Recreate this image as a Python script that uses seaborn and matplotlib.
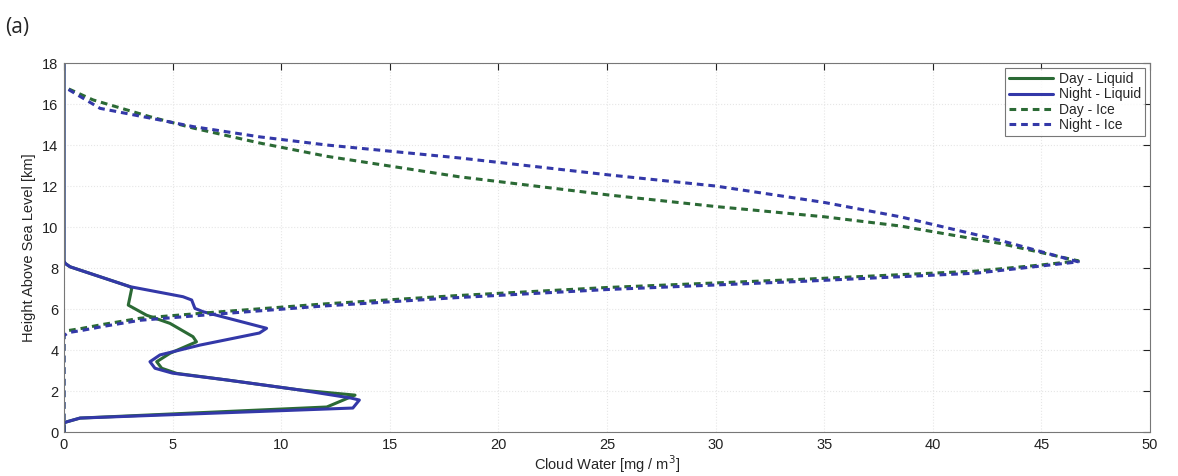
import matplotlib
matplotlib.use("Agg")
import matplotlib.pyplot as plt
import pandas as pd
import seaborn as sns

# height [km] and cloud water [mg/m^3]
day_liq_h = [18, 8.35, 8.23, 8.06, 7.09, 7.0, 6.19, 5.7, 5.3, 4.65, 4.4, 3.84, 3.43, 3.11,
             2.86, 2.54, 2.05, 1.8, 1.22, 0.68, 0.5, 0.45, 0]
day_liq_v = [0, 0, 0.05, 0.28, 3.04, 3.12, 2.96, 3.8, 4.88, 5.94, 6.1, 4.88, 4.27, 4.5,
             5.19, 7.49, 10.87, 13.4, 12.1, 0.74, 0.14, 0, 0]

night_liq_h = [18, 8.35, 8.23, 8.06, 7.09, 6.6, 6.44, 6.03, 5.87, 5.06, 4.83, 4.24, 3.76,
               3.43, 3.11, 2.87, 2.54, 2.05, 1.66, 1.56, 1.17, 0.68, 0.5, 0.45, 0]
night_liq_v = [0, 0, 0.05, 0.28, 3.04, 5.48, 5.88, 6.03, 6.4, 9.33, 9.0, 6.26, 4.42,
               3.96, 4.19, 5.0, 7.49, 10.87, 13.2, 13.6, 13.3, 0.74, 0.14, 0, 0]

day_ice_h = [0, 4.8, 4.95, 5.05, 5.25, 5.55, 5.85, 6.25, 6.65, 7.05, 7.45, 7.85, 8.15, 8.35,
             9.2, 10.05, 10.5, 11.0, 11.56, 12.45, 13.45, 14.1, 14.83, 15.38, 16.2, 16.84]
day_ice_v = [0, 0, 0.2, 0.8, 1.8, 3.5, 7, 12, 18, 25, 34, 42, 45, 46.7,
             43.1, 38.5, 35, 30, 25.1, 18.2, 12.1, 9.0, 5.94, 3.96, 1.34, 0]

night_ice_h = [0, 4.7, 4.85, 4.95, 5.15, 5.45, 5.75, 6.15, 6.55, 6.95, 7.35, 7.75, 8.1, 8.3,
               9.35, 10.5, 11.2, 12.0, 12.54, 13.37, 14.0, 14.4, 14.9, 15.22, 15.79, 16.84]
night_ice_v = [0, 0, 0.2, 0.8, 1.8, 3.5, 7, 12, 18, 25, 34, 42, 45, 46.7,
               43.1, 38.5, 35, 30, 25.1, 18.2, 12.1, 9.0, 5.94, 4.42, 1.66, 0]

series = [
    ("Day - Liquid", day_liq_v, day_liq_h, "#2b6a35", "-"),
    ("Night - Liquid", night_liq_v, night_liq_h, "#3338a8", "-"),
    ("Day - Ice", day_ice_v, day_ice_h, "#2b6a35", (0, (2.2, 1.6))),
    ("Night - Ice", night_ice_v, night_ice_h, "#3338a8", (0, (2.2, 1.6))),
]

sns.set_style("white")
plt.rcParams["font.family"] = ["Liberation Sans", "DejaVu Sans"]

fig = plt.figure(figsize=(11.78, 4.76), dpi=100)
ax = fig.add_axes([0.0543, 0.0924, 0.9219, 0.7752])

for name, v, h, col, ls in series:
    df = pd.DataFrame({"v": v, "h": h})
    sns.lineplot(data=df, x="v", y="h", sort=False, estimator=None, ax=ax,
                 color=col, linewidth=2.2, linestyle=ls, label=name)

ax.set_xlim(0, 50)
ax.set_ylim(0, 18)
ax.set_xticks(range(0, 51, 5))
ax.set_yticks(range(0, 19, 2))
ax.grid(True, linestyle=":", color="#e6e6e6", linewidth=0.8)
ax.tick_params(direction="in", length=5, top=True, right=True, labelsize=10.5,
               colors="#222222", pad=4)
for s in ax.spines.values():
    s.set_color("#777777")
    s.set_linewidth(0.8)

ax.set_xlabel("Cloud Water [mg / m$^3$]", fontsize=10.5, labelpad=1)
ax.set_ylabel("Height Above Sea Level [km]", fontsize=10.5, labelpad=4,
              family=["Liberation Sans Narrow", "Liberation Sans", "DejaVu Sans"])

leg = ax.legend(loc="upper right", fontsize=10, frameon=True, fancybox=False,
                handlelength=3.2, borderpad=0.3, labelspacing=0.1, handletextpad=0.4,
                borderaxespad=0.35)
leg.get_frame().set_edgecolor("#555555")
leg.get_frame().set_linewidth(0.8)

fig.text(0.004, 0.93, "(a)", fontsize=15, family=["Open Sans", "DejaVu Sans"])

fig.savefig("out.png", dpi=100)
